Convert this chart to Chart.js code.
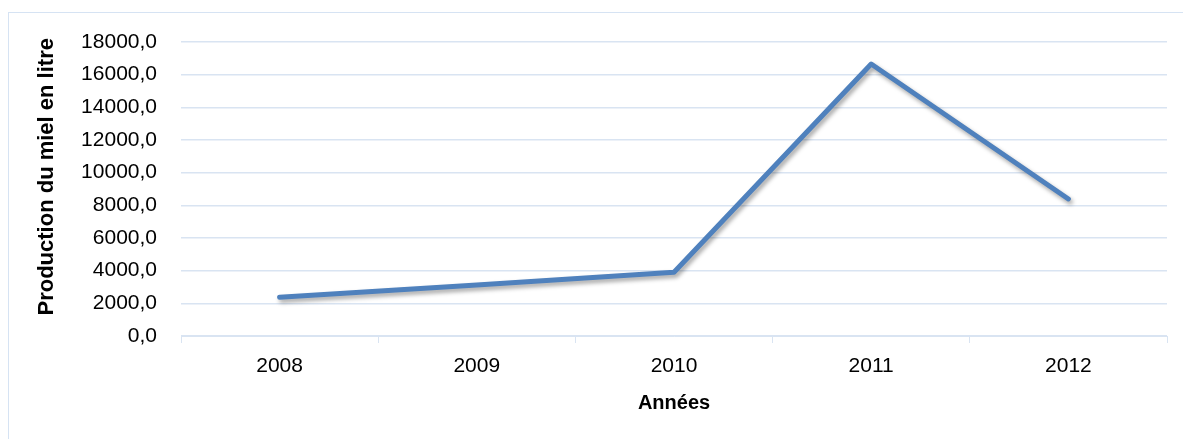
<!DOCTYPE html>
<html>
  <head>
    <title>Production du miel</title>
    <meta charset="utf-8">
    <style>
      body { margin: 0; background: #fff; }
      #frame {
        position: absolute; left: 8px; top: 12px;
        width: 1200px; height: 460px;
        border: 1px solid #d6e3f3;
      }
      #wrap { position: absolute; left: 0; top: 0; width: 1183px; height: 439px; }
    </style>
  </head>
  <body>
    <div id="frame"></div>
    <div id="wrap"><canvas id="mielChart"></canvas></div>

    <script src="https://cdn.jsdelivr.net/npm/chart.js"></script>
    <script>
      var years = ['2008', '2009', '2010', '2011', '2012'];
      var production = [2370, 3120, 3900, 16650, 8390];
      var yTicks = [0, 2000, 4000, 6000, 8000, 10000, 12000, 14000, 16000, 18000];

      var gridColor = '#d9e4f2';
      var font = 'Liberation Sans, Arial, sans-serif';

      var shadowPlugin = {
        id: 'lineShadow',
        beforeDatasetDraw: function (chart) {
          var ctx = chart.ctx;
          ctx.save();
          ctx.shadowColor = 'rgba(0, 0, 0, 0.35)';
          ctx.shadowBlur = 4;
          ctx.shadowOffsetX = 2;
          ctx.shadowOffsetY = 3;
        },
        afterDatasetDraw: function (chart) {
          chart.ctx.restore();
        }
      };

      var config = {
        type: 'line',
        data: {
          labels: years,
          datasets: [{
            label: 'Production du miel en litre',
            data: production,
            borderColor: '#4f81bd',
            backgroundColor: '#4f81bd',
            borderWidth: 5,
            borderCapStyle: 'round',
            borderJoinStyle: 'round',
            pointRadius: 0,
            tension: 0
          }]
        },
        options: {
          responsive: true,
          maintainAspectRatio: false,
          animation: false,
          layout: { padding: { top: 42, right: 16, left: 34, bottom: 20 } },
          scales: {
            x: {
              offset: true,
              border: { display: true, color: gridColor, width: 1 },
              grid: { display: true, drawOnChartArea: false, drawTicks: true, tickLength: 7, color: gridColor, offset: true },
              ticks: { color: '#000', font: { family: font, size: 21 }, padding: 11 },
              title: { display: true, text: 'Années', color: '#000', font: { family: font, size: 20, weight: 'bold' }, padding: { top: 6 } },
              afterFit: function (axis) { axis.height = 83; }
            },
            y: {
              min: 0,
              max: 18000,
              afterBuildTicks: function (axis) {
                axis.ticks = yTicks.map(function (v) { return { value: v }; });
              },
              border: { display: false },
              grid: { color: gridColor, lineWidth: 1.5, drawTicks: false },
              ticks: {
                color: '#000',
                font: { family: font, size: 21 },
                padding: 24,
                callback: function (v) { return v.toFixed(1).replace('.', ','); }
              },
              // leading spaces push the rotated title up a little, like the original
              title: { display: true, text: '    Production du miel en litre', color: '#000', font: { family: font, size: 22, weight: 'bold' }, padding: 0 },
              afterFit: function (axis) { axis.width = 147; }
            }
          },
          plugins: {
            legend: { display: false },
            tooltip: { enabled: false }
          }
        },
        plugins: [shadowPlugin]
      };

      var mielChart = new Chart(document.getElementById('mielChart'), config);
    </script>
  </body>
</html>
